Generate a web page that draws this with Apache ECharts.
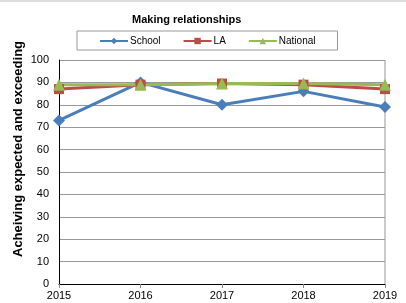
<!DOCTYPE html>
<html>
<head>
<meta charset="utf-8">
<script src="https://cdn.jsdelivr.net/npm/echarts@6/dist/echarts.min.js"></script>
<style>
  html, body { margin: 0; padding: 0; background: #fff; }
  #chart { width: 406px; height: 303px; }
</style>
</head>
<body>
<div id="chart"></div>
<script>
// values
var years = ['2015', '2016', '2017', '2018', '2019']
var school = [73, 90, 80, 86, 79]
var la = [87, 89, 89.5, 89, 87]
var national = [89, 89, 89.5, 89.5, 89]
var yTicks = { min: 0, max: 100, interval: 10 }

var chart = echarts.init(document.getElementById('chart'))

function lineSeries (name, data, color, symbol, size) {
  return {
    name: name,
    type: 'line',
    data: data,
    symbol: symbol,
    symbolSize: size,
    showAllSymbol: true,
    lineStyle: { color: color, width: 3 },
    itemStyle: { color: color },
    animation: false
  }
}

var option = {
  animation: false,
  textStyle: { fontFamily: 'Liberation Sans, Arial, sans-serif' },
  title: {
    text: 'Making relationships',
    left: 127,
    top: 9,
    textStyle: { fontSize: 11, fontWeight: 'bold', color: '#000' }
  },
  legend: {
    left: 77,
    top: 31,
    width: 263,
    height: 20,
    padding: [5, 22, 4, 22],
    itemGap: 22,
    borderColor: '#999',
    borderWidth: 1,
    itemWidth: 28,
    itemHeight: 8,
    textStyle: { fontSize: 10, color: '#000', padding: [0, 0, 0, -3] },
    data: ['School', 'LA', 'National']
  },
  grid: { left: 59, right: 21, top: 60, bottom: 19, outerBoundsMode: 'none', containLabel: false },
  xAxis: {
    type: 'category',
    data: years,
    boundaryGap: false,
    name: 'Year',
    nameLocation: 'middle',
    nameGap: 8,
    nameTextStyle: { fontSize: 10, fontWeight: 'bold', color: '#000', verticalAlign: 'top' },
    axisLine: { lineStyle: { color: '#000', width: 1 } },
    axisTick: { show: true, length: 4, lineStyle: { color: '#888' } },
    axisLabel: { fontSize: 11, color: '#000', margin: 6 },
    splitLine: { show: false }
  },
  yAxis: {
    type: 'value',
    min: yTicks.min,
    max: yTicks.max,
    interval: yTicks.interval,
    axisLine: { show: true, lineStyle: { color: '#000', width: 1 } },
    axisTick: { show: false },
    axisLabel: { fontSize: 11, color: '#000', margin: 10 },
    splitLine: { show: true, lineStyle: { color: '#999', width: 1 } }
  },
  graphic: [
    { type: 'line', shape: { x1: 0, y1: 1, x2: 406, y2: 1 }, style: { stroke: '#bbb', lineWidth: 1 } },
    { type: 'line', shape: { x1: 385, y1: 60, x2: 385, y2: 284 }, style: { stroke: '#999', lineWidth: 1 } },
    {
      type: 'text',
      x: 18,
      y: 149,
      rotation: Math.PI / 2,
      style: {
        text: 'Acheiving expected and exceeding',
        fill: '#000',
        font: 'bold 13px Liberation Sans, Arial, sans-serif',
        align: 'center',
        verticalAlign: 'middle'
      }
    }
  ],
  series: [
    lineSeries('School', school, '#4a7ebb', 'diamond', 12),
    lineSeries('LA', la, '#be4b48', 'rect', 10),
    lineSeries('National', national, '#98b954', 'triangle', 12)
  ]
}

chart.setOption(option)
window.addEventListener('resize', function () {
  chart.resize()
})
</script>
</body>
</html>
